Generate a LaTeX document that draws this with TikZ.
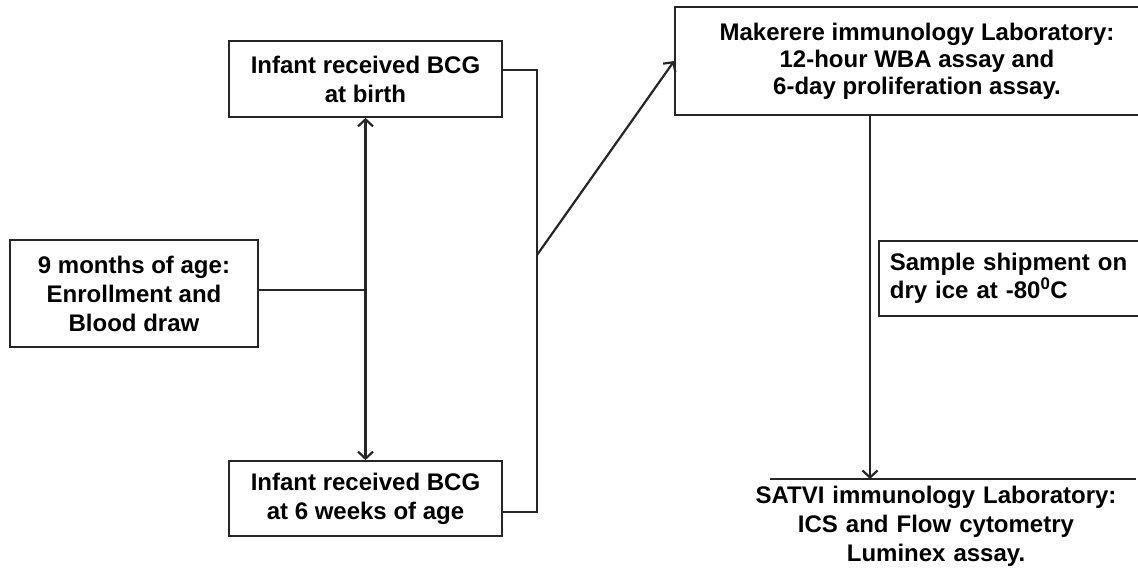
\documentclass[tikz,border=0pt]{standalone}
\usepackage{fontspec}
\setmainfont{Liberation Sans}
\usetikzlibrary{arrows.meta,calc}
\definecolor{flowline}{HTML}{262626}

\begin{document}
\begin{tikzpicture}[x=1pt, y=-1pt,
  every node/.style={font=\fontsize{24}{29}\selectfont\bfseries},
  stage/.style={draw=flowline, line width=1.7pt, align=center, inner sep=0pt},
  link/.style={draw=flowline, line width=2.2pt},
  arr/.style={link, -{Straight Barb[length=7pt, width=15pt]}},
  arrs/.style={link, {Straight Barb[length=7pt, width=15pt]}-{Straight Barb[length=7pt, width=15pt]}}]

  \useasboundingbox (0,0) rectangle (1138,581);
  \clip (0,0) rectangle (1138,581);

  % left column
  \node[stage, minimum width=248pt, minimum height=107pt] (enrol)
    at (134,293.5) {9 months of age:\\Enrollment and\\Blood draw};
  \node[stage, minimum width=273pt, minimum height=76pt] (birth)
    at (365.5,79) {Infant received BCG\\at birth};
  \node[stage, minimum width=273pt, minimum height=75pt] (sixwk)
    at (365.5,498.5) {Infant received BCG\\at 6 weeks of age};

  % right column
  \node[stage, minimum width=484pt, minimum height=108pt,
    font=\fontsize{24}{27}\selectfont\bfseries] (mak)
    at (917,61) {Makerere immunology Laboratory:\\12-hour WBA assay and\\6-day proliferation assay.};
  \node[stage, anchor=north west, align=left, inner xsep=11pt,
    text width=280pt, minimum height=75pt,
    font=\fontsize{24}{28}\selectfont\bfseries] (ship)
    at (878,240) {Sample shipment on\\dry ice at -80\textsuperscript{0}C};
  \node[align=center, anchor=north, inner xsep=0pt, inner ysep=6.5pt,
    text width=400pt] (satvi)
    at (936,479) {SATVI immunology Laboratory:\\ICS and Flow cytometry\\Luminex assay.};
  \draw[link, line width=1.7pt] ([xshift=34pt]satvi.north west) -- (satvi.north east);

  % connectors
  \coordinate (fork) at (537,255);
  \draw[arrs] (birth.south) -- (sixwk.north);
  \draw[link] ([yshift=3.5pt]enrol.east) -- ([yshift=3.5pt]enrol.east -| birth.south);
  \draw[link] ([yshift=9pt]birth.east) -| (fork) |- ([yshift=-13.5pt]sixwk.east);
  \draw[arr] (fork) -- (mak.west);
  \draw[arr] ([xshift=-47pt]mak.south) -- ([xshift=-47pt]mak.south |- satvi.north);

\end{tikzpicture}
\end{document}
